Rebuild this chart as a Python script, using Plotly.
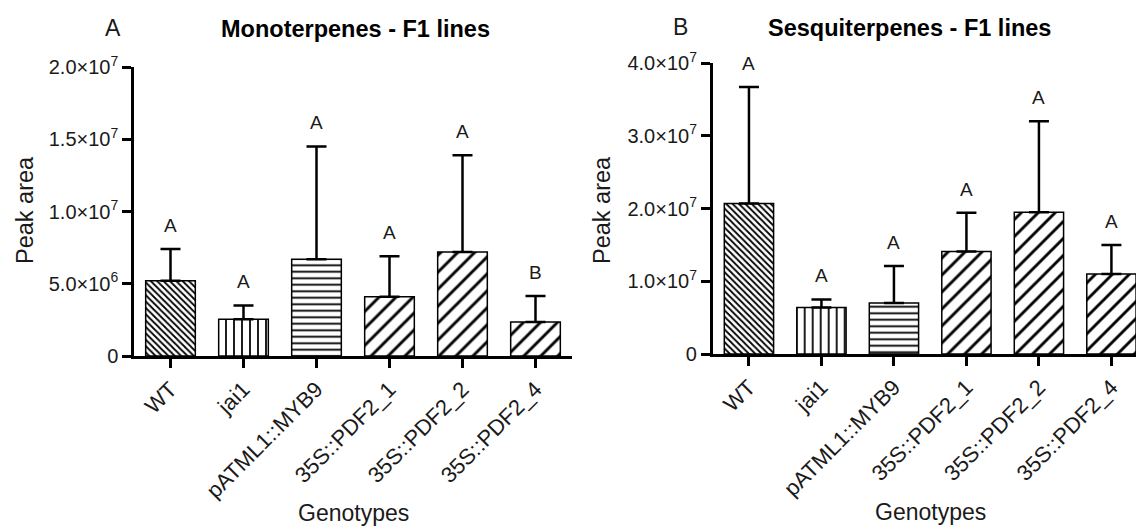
import plotly.graph_objects as go

# Genotypes on the x axis
genotypes = ["WT", "jai1", "pATML1::MYB9", "35S::PDF2_1", "35S::PDF2_2", "35S::PDF2_4"]

# Monoterpenes: mean peak area and upper error limit
mono_mean = [5.2e6, 2.55e6, 6.7e6, 4.1e6, 7.2e6, 2.35e6]
mono_upper = [7.4e6, 3.5e6, 1.45e7, 6.9e6, 1.39e7, 4.15e6]
mono_letters = ["A", "A", "A", "A", "A", "B"]

# Sesquiterpenes: mean peak area and upper error limit
sesq_mean = [2.07e7, 6.4e6, 7.0e6, 1.41e7, 1.95e7, 1.1e7]
sesq_upper = [3.67e7, 7.5e6, 1.21e7, 1.94e7, 3.2e7, 1.5e7]
sesq_letters = ["A", "A", "A", "A", "A", "A"]

# y-axis ticks
mono_tickvals = [0, 5e6, 1e7, 1.5e7, 2e7]
mono_ticktext = ["0", "5.0×10<sup>6</sup>", "1.0×10<sup>7</sup>", "1.5×10<sup>7</sup>", "2.0×10<sup>7</sup>"]
sesq_tickvals = [0, 1e7, 2e7, 3e7, 4e7]
sesq_ticktext = ["0", "1.0×10<sup>7</sup>", "2.0×10<sup>7</sup>", "3.0×10<sup>7</sup>", "4.0×10<sup>7</sup>"]

W, H = 1136, 527
FONT = "Liberation Sans, Arial, sans-serif"
TXT = "#1a1a1a"

# hatch style per genotype
shapes = ["\\", "|", "-", "/", "/", "/"]
sizes = [4.5, 8, 6.5, 12, 12, 12]
solid = [0.4, 0.22, 0.28, 0.24, 0.24, 0.24]


def px_x(p):
    return p / W


def px_y(p):
    return (H - p) / H


fig = go.Figure()

panels = [
    ("x", "y", mono_mean, mono_upper, mono_letters),
    ("x2", "y2", sesq_mean, sesq_upper, sesq_letters),
]

for xa, ya, means, upper, letters in panels:
    for i, g in enumerate(genotypes):
        fig.add_trace(go.Bar(
            x=[g], y=[means[i]], xaxis=xa, yaxis=ya,
            width=0.68,
            marker=dict(
                color="white",
                line=dict(color="black", width=1.5),
                pattern=dict(shape=shapes[i], size=sizes[i], solidity=solid[i],
                             fgcolor="black", bgcolor="white", fgopacity=1,
                             fillmode="replace"),
            ),
            error_y=dict(type="data", symmetric=False,
                         array=[upper[i] - means[i]], arrayminus=[0],
                         color="black", thickness=2.5, width=10),
            showlegend=False, hoverinfo="skip",
        ))
        fig.add_annotation(
            x=g, y=upper[i], xref=xa, yref=ya, text=letters[i],
            showarrow=False, yanchor="bottom", yshift=11,
            font=dict(family=FONT, size=19, color=TXT),
        )

axis_common = dict(
    showgrid=False, zeroline=False, showline=True, linecolor="black", linewidth=2.5,
    ticks="outside", tickcolor="black", tickwidth=2.5, ticklen=9,
    automargin=False,
)
xfont = dict(family=FONT, size=22, color=TXT)
yfont = dict(family=FONT, size=20, color=TXT)

fig.update_layout(
    width=W, height=H,
    margin=dict(l=0, r=0, t=0, b=0),
    paper_bgcolor="white", plot_bgcolor="white",
    bargap=0.3,
    xaxis=dict(domain=[px_x(134), px_x(572)], range=[-0.5, 5.5], anchor="y",
               tickangle=-45, categoryorder="array", categoryarray=genotypes,
               tickfont=xfont, **axis_common),
    yaxis=dict(domain=[px_y(356), px_y(67)], range=[0, 2e7], anchor="x",
               tickvals=mono_tickvals, ticktext=mono_ticktext, tickfont=yfont,
               **axis_common),
    xaxis2=dict(domain=[px_x(712.7), 1.0], range=[-0.5, 5.339], anchor="y2",
                tickangle=-45, categoryorder="array", categoryarray=genotypes,
                tickfont=xfont, **axis_common),
    yaxis2=dict(domain=[px_y(354), px_y(63)], range=[0, 4e7], anchor="x2",
                tickvals=sesq_tickvals, ticktext=sesq_ticktext, tickfont=yfont,
                **axis_common),
)

# panel letters, titles and axis titles: (text, x px, y px, bold, size, angle, anchor)
labels = [
    ("A", 113, 28, False, 23, 0, "center"),
    ("Monoterpenes - F1 lines", 219, 29, True, 23.5, 0, "left"),
    ("B", 680, 27, False, 23, 0, "center"),
    ("Sesquiterpenes - F1 lines", 766, 28, True, 23.5, 0, "left"),
    ("Genotypes", 353, 513, False, 23, 0, "center"),
    ("Genotypes", 930, 512, False, 23, 0, "center"),
    ("Peak area", 25, 210, False, 23.5, -90, "center"),
    ("Peak area", 602, 210, False, 23.5, -90, "center"),
]
for text, x, y, bold, size, ang, anc in labels:
    fig.add_annotation(
        x=px_x(x), y=px_y(y), xref="paper", yref="paper",
        text=f"<b>{text}</b>" if bold else text, showarrow=False,
        xanchor=anc, yanchor="middle", textangle=ang,
        font=dict(family=FONT, size=size, color="black" if bold else TXT),
    )

fig.write_html("out.html")
